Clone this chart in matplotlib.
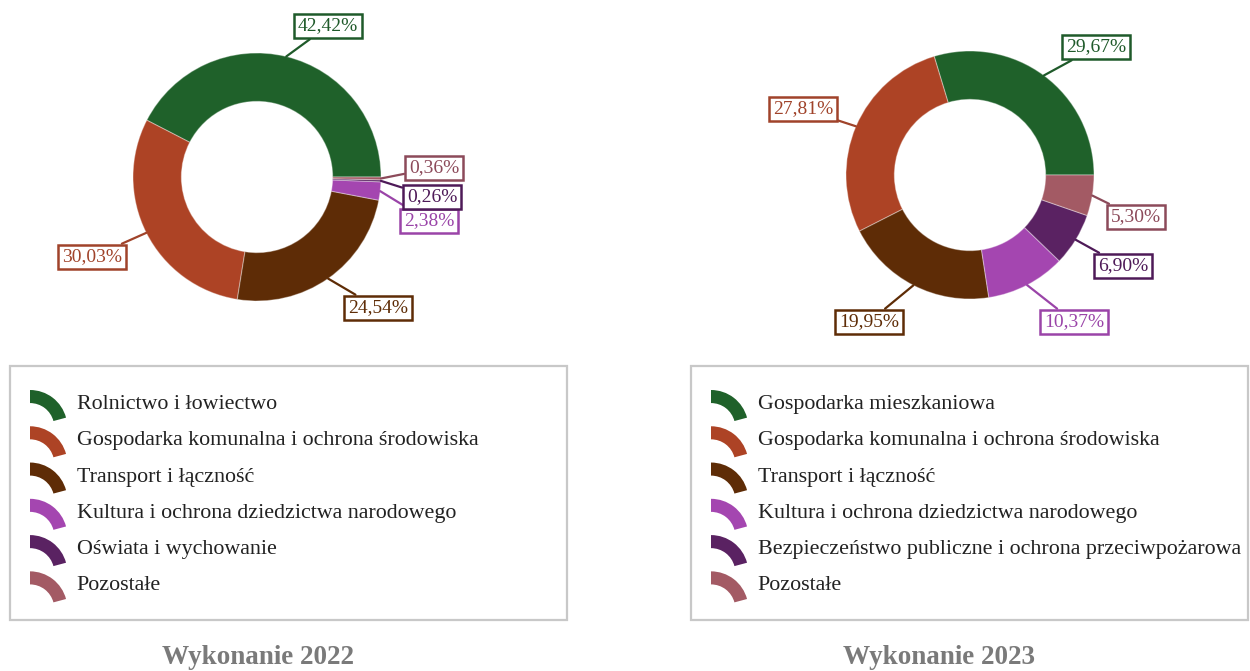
import numpy as np
import matplotlib.pyplot as plt
from matplotlib.patches import Wedge, Patch, Rectangle
from matplotlib.legend_handler import HandlerBase

plt.rcParams['font.family'] = ['Liberation Serif', 'DejaVu Serif']

# dane - struktura wydatków
kat_2022 = ['Rolnictwo i łowiectwo', 'Gospodarka komunalna i ochrona środowiska',
            'Transport i łączność', 'Kultura i ochrona dziedzictwa narodowego',
            'Oświata i wychowanie', 'Pozostałe']
udz_2022 = [42.42, 30.03, 24.54, 2.38, 0.26, 0.36]

kat_2023 = ['Gospodarka mieszkaniowa', 'Gospodarka komunalna i ochrona środowiska',
            'Transport i łączność', 'Kultura i ochrona dziedzictwa narodowego',
            'Bezpieczeństwo publiczne i ochrona przeciwpożarowa', 'Pozostałe']
udz_2023 = [29.67, 27.81, 19.95, 10.37, 6.90, 5.30]

kolory = ['#1f612a', '#ad4325', '#5e2c06', '#a446b0', '#5a2262', '#a35a64']
kolory_etykiet = ['#1f5a2a', '#a0432a', '#5e2c06', '#9a44a8', '#4e1a58', '#8c4a5a']

# polozenie etykiet (w promieniach od srodka)
poz_2022 = [(0.573, 1.218), (-1.331, -0.645), (0.976, -1.056),
            (1.387, -0.355), (1.411, -0.161), (1.427, 0.073)]
poz_2023 = [(1.016, 1.032), (-1.347, 0.532), (-0.815, -1.185),
            (0.839, -1.185), (1.234, -0.734), (1.339, -0.339)]

W, H = 1250, 671
R = 124  # promien w pikselach


class HandlerLuk(HandlerBase):
    def create_artists(self, legend, orig_handle, xdescent, ydescent,
                       width, height, fontsize, trans):
        x0, y0 = -xdescent, -ydescent
        r = width
        w = Wedge((x0, y0 + height - r), r, 15, 90, width=0.35 * r,
                  facecolor=orig_handle.get_facecolor(), edgecolor='none',
                  transform=trans)
        return [w]


def wykres(cx, cy, udzialy, kategorie, pozycje, lx, tytul):
    s = 3.2 * R
    ax = fig.add_axes([(cx - s / 2) / W, (H - cy - s / 2) / H, s / W, s / H])
    ax.pie(udzialy, colors=kolory, startangle=0, counterclock=True, radius=1,
           wedgeprops=dict(width=0.39, edgecolor=(1, 1, 1, 0.35), linewidth=0.8))
    ax.set_xlim(-1.6, 1.6)
    ax.set_ylim(-1.6, 1.6)
    ax.set_aspect('equal')
    ax.axis('off')

    start = 0
    for u, c, (px, py) in zip(udzialy, kolory_etykiet, pozycje):
        kat = np.deg2rad(start + u * 3.6 / 2)
        start += u * 3.6
        ax.annotate(f'{u:.2f}%'.replace('.', ','), xy=(np.cos(kat), np.sin(kat)),
                    xytext=(px, py), ha='center', va='center', fontsize=14,
                    color=c, annotation_clip=False,
                    bbox=dict(boxstyle='square,pad=0.2', fc='white', ec=c, lw=1.8),
                    arrowprops=dict(arrowstyle='-', color=c, lw=1.6,
                                    shrinkA=0, shrinkB=0))

    # ramka i legenda
    fig.add_artist(Rectangle((lx / W, 1 - 620 / H), 557 / W, 254 / H,
                             transform=fig.transFigure, fill=False,
                             ec='#c8c8c8', lw=1.6))
    uchwyty = [Patch(facecolor=c) for c in kolory]
    fig.legend(uchwyty, kategorie, loc='upper left',
               bbox_to_anchor=((lx + 20) / W, 1 - 390 / H),
               frameon=False, fontsize=15.8, borderpad=0, borderaxespad=0,
               handlelength=1.7, handleheight=1.25, handletextpad=0.42,
               labelspacing=0.56, handler_map={Patch: HandlerLuk()},
               labelcolor='#222222')

    fig.text((lx + 248) / W, 1 - 658 / H, tytul, ha='center', va='center',
             fontsize=19.5, fontweight='bold', color='#7a7a7a')


fig = plt.figure(figsize=(W / 100, H / 100), dpi=100)

wykres(257, 177, udz_2022, kat_2022, poz_2022, 10, 'Wykonanie 2022')
wykres(970, 175, udz_2023, kat_2023, poz_2023, 691, 'Wykonanie 2023')

fig.savefig('out.png', dpi=100)
